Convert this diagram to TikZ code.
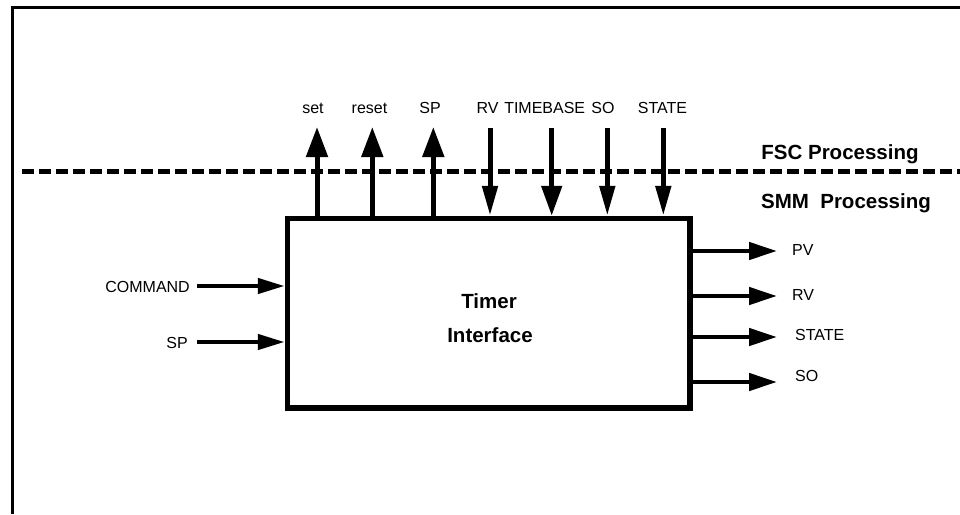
\documentclass[tikz,border=0pt]{standalone}
\usepackage{fontspec}
\setmainfont{Liberation Sans}
\usetikzlibrary{arrows.meta}
\tikzset{
  sig/.style={font=\fontsize{16}{19}\selectfont, inner sep=0pt, anchor=base},
  hdr/.style={font=\bfseries\fontsize{20.5}{24}\selectfont, inner sep=0pt, anchor=base},
  wire/.style={line width=5pt},
  upwire/.style={wire, -{Triangle[length=30pt,width=21pt]}},
  downwire/.style={wire, -{Triangle[length=30pt,width=15pt]}},
  inwire/.style={line width=4.5pt, -{Triangle[length=27pt,width=15pt]}},
  outwire/.style={line width=4.5pt, -{Triangle[length=28pt,width=17pt]}},
}
\begin{document}
\begin{tikzpicture}[x=1pt,y=-1pt]
      \useasboundingbox (0,0) rectangle (960,514);
      % cadre
      \draw[line width=3pt] (12.5,514) -- (12.5,7) -- (960,7);
      % separation FSC / SMM
      \draw[line width=5pt, dash pattern=on 12pt off 5pt] (22,171) -- (960,171);
      \node[hdr] (fsc) at (840,159) {FSC Processing};
      \node[hdr] (smm) at (846,208) {SMM~~Processing};
      % bloc timer
      \node[draw, line width=5.5pt, minimum width=402.5pt, minimum height=189.5pt,
            inner sep=0pt] (timer) at (488.75,313.25) {};
      \node[hdr] (tname) at (489,308) {Timer};
      \node[hdr] (tname2) at (490,342) {Interface};
      % sorties vers FSC
      \node[sig] (set) at (313,113) {set};
      \node[sig] (reset) at (369.5,113) {reset};
      \node[sig] (spo) at (430,113) {SP};
      \coordinate (set-t) at (317,127);
      \coordinate (reset-t) at (372.3,127);
      \coordinate (spo-t) at (433.3,127);
      \draw[upwire] (timer.north -| set-t) -- (set-t);
      \draw[upwire] (timer.north -| reset-t) -- (reset-t);
      \draw[upwire] (timer.north -| spo-t) -- (spo-t);
      % entrees depuis FSC
      \node[sig] (rvi) at (487.5,113) {RV};
      \node[sig] (tb) at (544.7,113) {TIMEBASE};
      \node[sig] (soi) at (603,113) {SO};
      \node[sig] (sti) at (662.5,113) {STATE};
      \coordinate (rvi-t) at (490,128);
      \coordinate (tb-t) at (551.7,128);
      \coordinate (soi-t) at (607.3,128);
      \coordinate (sti-t) at (663.3,128);
      \draw[downwire] (rvi-t) -- (timer.north -| rvi-t);
      \draw[wire, -{Triangle[length=30pt,width=20pt]}] (tb-t) -- (timer.north -| tb-t);
      \draw[downwire] (soi-t) -- (timer.north -| soi-t);
      \draw[downwire] (sti-t) -- (timer.north -| sti-t);
      % entrees gauche
      \node[sig, anchor=base east] (cmd) at (190,292) {COMMAND};
      \node[sig, anchor=base east] (spi) at (188,348) {SP};
      \coordinate (cmd-s) at (197,286);
      \coordinate (spi-s) at (197,342);
      \draw[inwire] (cmd-s) -- (cmd-s -| timer.west);
      \draw[inwire] (spi-s) -- (spi-s -| timer.west);
      % sorties droite
      \node[sig, anchor=base west] (pv) at (792,255) {PV};
      \node[sig, anchor=base west] (rvo) at (792,300.7) {RV};
      \node[sig, anchor=base west] (sto) at (795,340.7) {STATE};
      \node[sig, anchor=base west] (soo) at (795,381) {SO};
      \coordinate (pv-t) at (777,251);
      \coordinate (rvo-t) at (777,296);
      \coordinate (sto-t) at (777,337);
      \coordinate (soo-t) at (777,382);
      \draw[outwire] (timer.east |- pv-t) -- (pv-t);
      \draw[outwire] (timer.east |- rvo-t) -- (rvo-t);
      \draw[outwire] (timer.east |- sto-t) -- (sto-t);
      \draw[outwire] (timer.east |- soo-t) -- (soo-t);
\end{tikzpicture}
\end{document}
